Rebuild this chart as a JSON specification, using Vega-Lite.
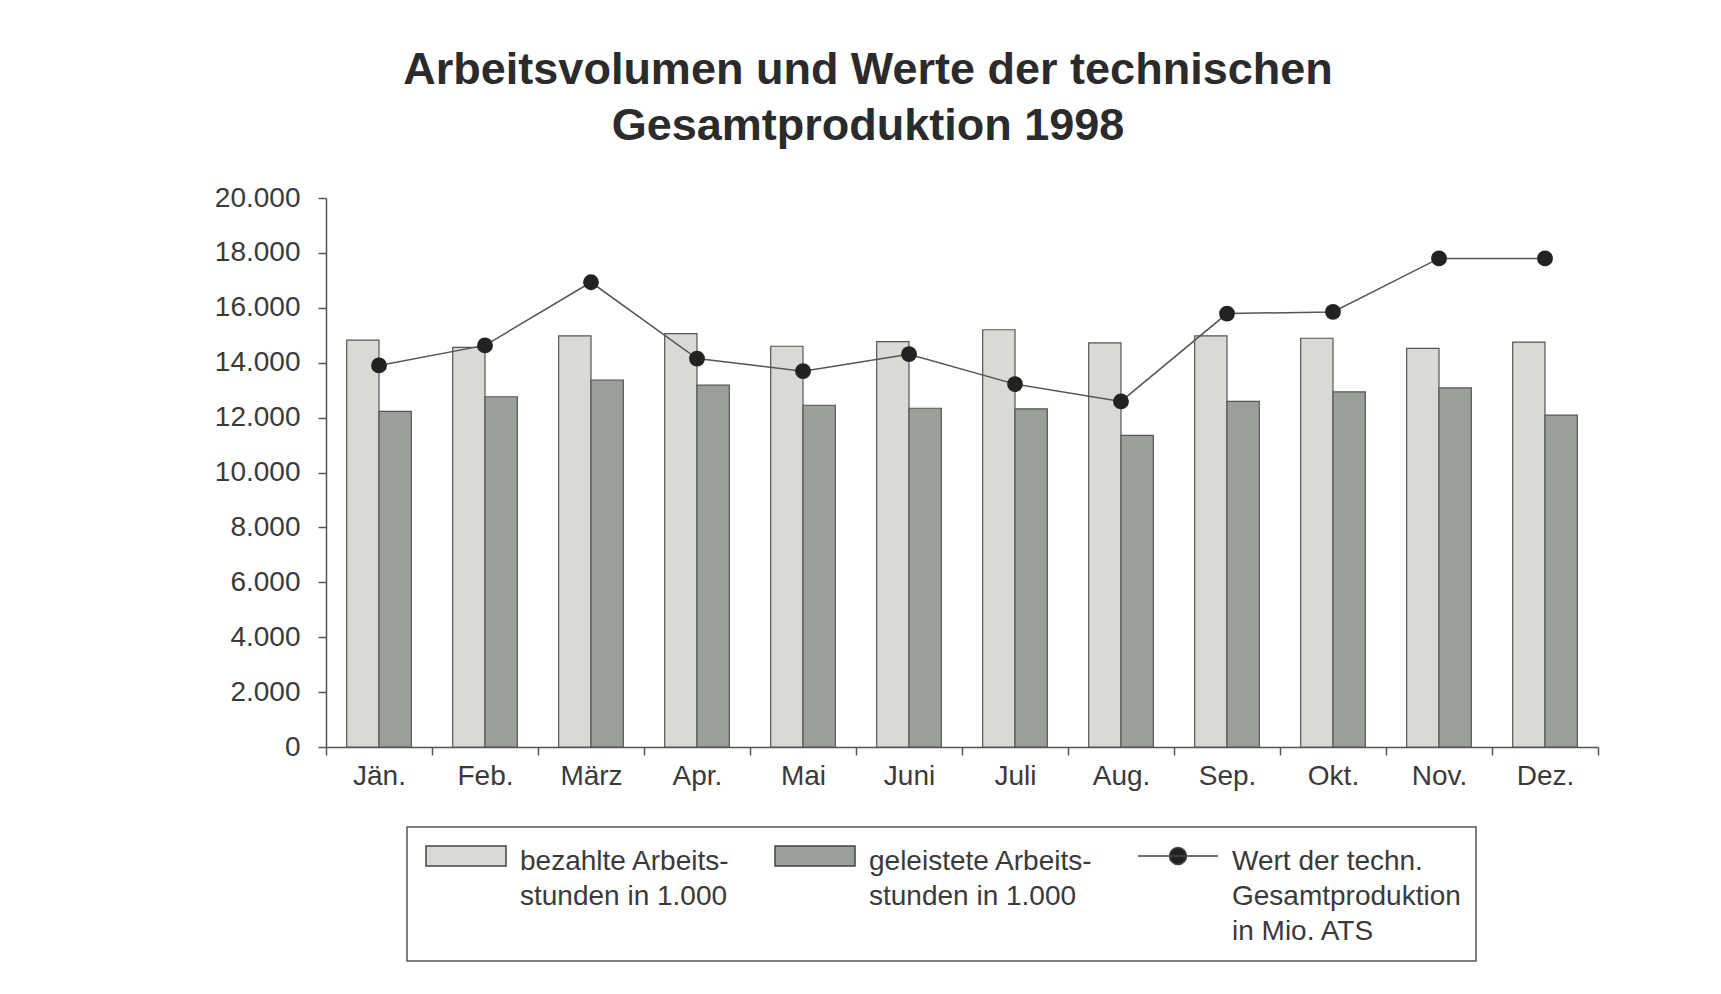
{
  "$schema": "https://vega.github.io/schema/vega-lite/v6.json",
  "width": 1272,
  "height": 549,
  "padding": {"left": 214, "top": 48, "right": 10, "bottom": 10},
  "background": "white",
  "title": {
    "text": ["Arbeitsvolumen und Werte der technischen", "Gesamtproduktion 1998"],
    "fontSize": 45,
    "font": "Liberation Sans",
    "fontWeight": "bold",
    "color": "#2b2b2b",
    "lineHeight": 56,
    "anchor": "middle",
    "dx": -94,
    "offset": 35
  },
  "config": {
    "font": "Liberation Sans",
    "view": {"stroke": null},
    "axis": {
      "labelFontSize": 28,
      "labelColor": "#3a3a3a",
      "domainColor": "#555555",
      "tickColor": "#555555",
      "domainWidth": 1.5,
      "tickWidth": 1.5,
      "grid": false,
      "labelFont": "Liberation Sans"
    }
  },
  "data": {
    "values": [
      {"month": "Jän.", "series": "bezahlt", "value": 14820},
      {"month": "Feb.", "series": "bezahlt", "value": 14560},
      {"month": "März", "series": "bezahlt", "value": 14980},
      {"month": "Apr.", "series": "bezahlt", "value": 15060},
      {"month": "Mai", "series": "bezahlt", "value": 14600},
      {"month": "Juni", "series": "bezahlt", "value": 14770},
      {"month": "Juli", "series": "bezahlt", "value": 15200},
      {"month": "Aug.", "series": "bezahlt", "value": 14720},
      {"month": "Sep.", "series": "bezahlt", "value": 14980},
      {"month": "Okt.", "series": "bezahlt", "value": 14890},
      {"month": "Nov.", "series": "bezahlt", "value": 14520},
      {"month": "Dez.", "series": "bezahlt", "value": 14750},
      {"month": "Jän.", "series": "geleistet", "value": 12230},
      {"month": "Feb.", "series": "geleistet", "value": 12760},
      {"month": "März", "series": "geleistet", "value": 13370},
      {"month": "Apr.", "series": "geleistet", "value": 13180},
      {"month": "Mai", "series": "geleistet", "value": 12450},
      {"month": "Juni", "series": "geleistet", "value": 12340},
      {"month": "Juli", "series": "geleistet", "value": 12320},
      {"month": "Aug.", "series": "geleistet", "value": 11350},
      {"month": "Sep.", "series": "geleistet", "value": 12590},
      {"month": "Okt.", "series": "geleistet", "value": 12940},
      {"month": "Nov.", "series": "geleistet", "value": 13080},
      {"month": "Dez.", "series": "geleistet", "value": 12090},
      {"month": "Jän.", "series": "wert", "value": 13900},
      {"month": "Feb.", "series": "wert", "value": 14630},
      {"month": "März", "series": "wert", "value": 16930},
      {"month": "Apr.", "series": "wert", "value": 14150},
      {"month": "Mai", "series": "wert", "value": 13690},
      {"month": "Juni", "series": "wert", "value": 14310},
      {"month": "Juli", "series": "wert", "value": 13220},
      {"month": "Aug.", "series": "wert", "value": 12590},
      {"month": "Sep.", "series": "wert", "value": 15790},
      {"month": "Okt.", "series": "wert", "value": 15850},
      {"month": "Nov.", "series": "wert", "value": 17800},
      {"month": "Dez.", "series": "wert", "value": 17800}
    ]
  },
  "encoding": {
    "x": {
      "field": "month",
      "type": "nominal",
      "sort": ["Jän.", "Feb.", "März", "Apr.", "Mai", "Juni", "Juli", "Aug.", "Sep.", "Okt.", "Nov.", "Dez."],
      "scale": {"paddingInner": 0, "paddingOuter": 0},
      "axis": {"title": null, "labelAngle": 0, "tickBand": "extent", "tickSize": 8, "labelPadding": 7}
    },
    "y": {
      "field": "value",
      "type": "quantitative",
      "scale": {"domain": [0, 20000], "nice": false},
      "axis": {
        "title": null,
        "values": [0, 2000, 4000, 6000, 8000, 10000, 12000, 14000, 16000, 18000, 20000],
        "labelExpr": "replace(format(datum.value, ',d'), ',', '.')",
        "tickSize": 8,
        "labelPadding": 18
      }
    }
  },
  "layer": [
    {
      "transform": [{"filter": "datum.series !== 'wert'"}],
      "mark": {"type": "bar", "stroke": "#555555", "strokeWidth": 1.2},
      "encoding": {
        "xOffset": {"field": "series", "type": "nominal", "scale": {"paddingOuter": 0.64, "paddingInner": 0}},
        "color": {
          "field": "series",
          "type": "nominal",
          "scale": {"domain": ["bezahlt", "geleistet", "wert"], "range": ["#d9dad5", "#9b9f99", "#222222"]},
          "legend": {
            "title": null,
            "orient": "none",
            "legendX": 81,
            "legendY": 629,
            "direction": "horizontal",
            "columns": 3,
            "columnPadding": 40,
            "padding": 15,
            "strokeColor": "#555555",
            "symbolSize": 400,
            "symbolOpacity": 1,
            "symbolStrokeColor": "#444444",
            "symbolStrokeWidth": 1.5,
            "labelFontSize": 28,
            "labelOffset": 70,
            "labelLimit": 400,
            "labelColor": "#3a3a3a",
            "labelBaseline": "top",
            "labelExpr": "datum.value == 'bezahlt' ? ['bezahlte Arbeits-', 'stunden in 1.000', ' '] : datum.value == 'geleistet' ? ['geleistete Arbeits-', 'stunden in 1.000', ' '] : ['Wert der techn.', 'Gesamtproduktion', 'in Mio. ATS']",
            "encode": {
              "symbols": {
                "update": {
                  "shape": {"signal": "datum.value === 'wert' ? 'M-1,0H7M3.85,0A0.85,0.85,0,1,1,2.15,0A0.85,0.85,0,1,1,3.85,0Z' : 'M-1,-1H7V1H-1Z'"},
                  "stroke": {"value": "#444444"},
                  "strokeWidth": {"value": 1.5}
                }
              },
              "labels": {"update": {"lineHeight": {"value": 35}, "dy": {"value": -8}}},
              "legend": {"update": {"strokeWidth": {"value": 1.5}}}
            }
          }
        }
      }
    },
    {
      "transform": [{"filter": "datum.series === 'wert'"}],
      "mark": {"type": "line", "color": "#555555", "strokeWidth": 1.5},
      "encoding": {}
    },
    {
      "transform": [{"filter": "datum.series === 'wert'"}],
      "mark": {"type": "circle", "size": 250, "opacity": 1},
      "encoding": {
        "color": {"field": "series", "type": "nominal"}
      }
    }
  ]
}
